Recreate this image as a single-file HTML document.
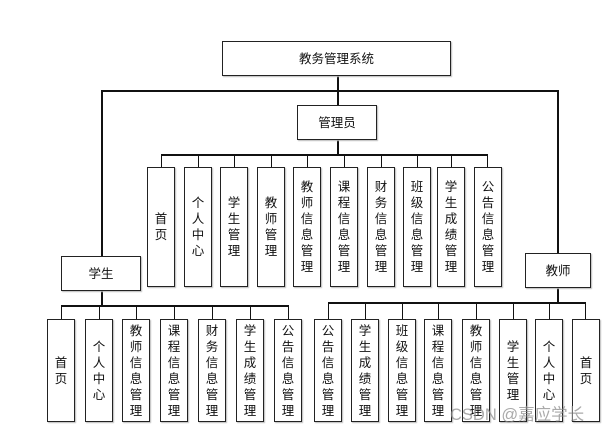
<!DOCTYPE html>
<html><head><meta charset="utf-8"><style>
body{margin:0;width:602px;height:436px;background:#fff;position:relative;overflow:hidden;font-family:"Liberation Sans","Noto Sans CJK SC",sans-serif;}
.b{position:absolute;border:1.5px solid #222;box-sizing:border-box;background:#fff;box-shadow:1px 1px 1px #bbb;display:flex;align-items:center;justify-content:center;text-align:center;font-size:12.5px;line-height:16px;color:#111;}
.l{position:absolute;background:#111;}
.wm{position:absolute;left:450px;top:401px;font-size:16.5px;color:rgba(140,140,140,0.75);white-space:nowrap;}
</style></head><body>
<div class="l" style="left:337px;top:75px;width:1.5px;height:30px"></div>
<div class="l" style="left:101px;top:90px;width:457px;height:1.5px"></div>
<div class="l" style="left:101px;top:90px;width:1.5px;height:166px"></div>
<div class="l" style="left:557px;top:90px;width:1.5px;height:163px"></div>
<div class="l" style="left:337px;top:139px;width:2px;height:16px"></div>
<div class="l" style="left:161px;top:154px;width:327px;height:1.5px"></div>
<div class="l" style="left:161px;top:154px;width:1px;height:13px"></div>
<div class="l" style="left:198px;top:154px;width:1px;height:13px"></div>
<div class="l" style="left:234px;top:154px;width:1px;height:13px"></div>
<div class="l" style="left:271px;top:154px;width:1px;height:13px"></div>
<div class="l" style="left:307px;top:154px;width:1px;height:13px"></div>
<div class="l" style="left:344px;top:154px;width:1px;height:13px"></div>
<div class="l" style="left:381px;top:154px;width:1px;height:13px"></div>
<div class="l" style="left:417px;top:154px;width:1px;height:13px"></div>
<div class="l" style="left:451px;top:154px;width:1px;height:13px"></div>
<div class="l" style="left:487px;top:154px;width:1px;height:13px"></div>
<div class="l" style="left:101px;top:290px;width:1.5px;height:16px"></div>
<div class="l" style="left:61px;top:305px;width:228px;height:1.5px"></div>
<div class="l" style="left:61px;top:305px;width:1px;height:14px"></div>
<div class="l" style="left:99px;top:305px;width:1px;height:14px"></div>
<div class="l" style="left:136px;top:305px;width:1px;height:14px"></div>
<div class="l" style="left:174px;top:305px;width:1px;height:14px"></div>
<div class="l" style="left:212px;top:305px;width:1px;height:14px"></div>
<div class="l" style="left:250px;top:305px;width:1px;height:14px"></div>
<div class="l" style="left:288px;top:305px;width:1px;height:14px"></div>
<div class="l" style="left:557px;top:287px;width:2px;height:16px"></div>
<div class="l" style="left:328px;top:302px;width:258px;height:1.5px"></div>
<div class="l" style="left:328px;top:302px;width:1px;height:17px"></div>
<div class="l" style="left:365px;top:302px;width:1px;height:17px"></div>
<div class="l" style="left:402px;top:302px;width:1px;height:17px"></div>
<div class="l" style="left:438px;top:302px;width:1px;height:17px"></div>
<div class="l" style="left:476px;top:302px;width:1px;height:17px"></div>
<div class="l" style="left:513px;top:302px;width:1px;height:17px"></div>
<div class="l" style="left:549px;top:302px;width:1px;height:17px"></div>
<div class="l" style="left:585px;top:302px;width:1px;height:17px"></div>

<div class="b" style="left:222px;top:41px;width:229px;height:35px">教务管理系统</div>
<div class="b" style="left:297px;top:105px;width:80px;height:35px">管理员</div>
<div class="b" style="left:61px;top:256px;width:80px;height:35px">学生</div>
<div class="b" style="left:525px;top:253px;width:66px;height:35px">教师</div>

<div class="b" style="left:147px;top:167px;width:28px;height:120px">首<br>页</div>
<div class="b" style="left:184px;top:167px;width:28px;height:120px">个<br>人<br>中<br>心</div>
<div class="b" style="left:220px;top:167px;width:28px;height:120px">学<br>生<br>管<br>理</div>
<div class="b" style="left:257px;top:167px;width:28px;height:120px">教<br>师<br>管<br>理</div>
<div class="b" style="left:293px;top:167px;width:28px;height:120px">教<br>师<br>信<br>息<br>管<br>理</div>
<div class="b" style="left:330px;top:167px;width:28px;height:120px">课<br>程<br>信<br>息<br>管<br>理</div>
<div class="b" style="left:367px;top:167px;width:28px;height:120px">财<br>务<br>信<br>息<br>管<br>理</div>
<div class="b" style="left:403px;top:167px;width:28px;height:120px">班<br>级<br>信<br>息<br>管<br>理</div>
<div class="b" style="left:437px;top:167px;width:28px;height:120px">学<br>生<br>成<br>绩<br>管<br>理</div>
<div class="b" style="left:474px;top:167px;width:28px;height:120px">公<br>告<br>信<br>息<br>管<br>理</div>

<div class="b" style="left:47px;top:319px;width:28px;height:103px">首<br>页</div>
<div class="b" style="left:85px;top:319px;width:28px;height:103px">个<br>人<br>中<br>心</div>
<div class="b" style="left:122px;top:319px;width:28px;height:103px">教<br>师<br>信<br>息<br>管<br>理</div>
<div class="b" style="left:160px;top:319px;width:28px;height:103px">课<br>程<br>信<br>息<br>管<br>理</div>
<div class="b" style="left:198px;top:319px;width:28px;height:103px">财<br>务<br>信<br>息<br>管<br>理</div>
<div class="b" style="left:236px;top:319px;width:28px;height:103px">学<br>生<br>成<br>绩<br>管<br>理</div>
<div class="b" style="left:274px;top:319px;width:28px;height:103px">公<br>告<br>信<br>息<br>管<br>理</div>

<div class="b" style="left:314px;top:319px;width:28px;height:103px">公<br>告<br>信<br>息<br>管<br>理</div>
<div class="b" style="left:351px;top:319px;width:28px;height:103px">学<br>生<br>成<br>绩<br>管<br>理</div>
<div class="b" style="left:388px;top:319px;width:28px;height:103px">班<br>级<br>信<br>息<br>管<br>理</div>
<div class="b" style="left:424px;top:319px;width:28px;height:103px">课<br>程<br>信<br>息<br>管<br>理</div>
<div class="b" style="left:462px;top:319px;width:28px;height:103px">教<br>师<br>信<br>息<br>管<br>理</div>
<div class="b" style="left:499px;top:319px;width:28px;height:103px">学<br>生<br>管<br>理</div>
<div class="b" style="left:535px;top:319px;width:28px;height:103px">个<br>人<br>中<br>心</div>
<div class="b" style="left:572px;top:319px;width:28px;height:103px">首<br>页</div>

<div class="wm">CSDN @嘉应学长</div>
</body></html>
